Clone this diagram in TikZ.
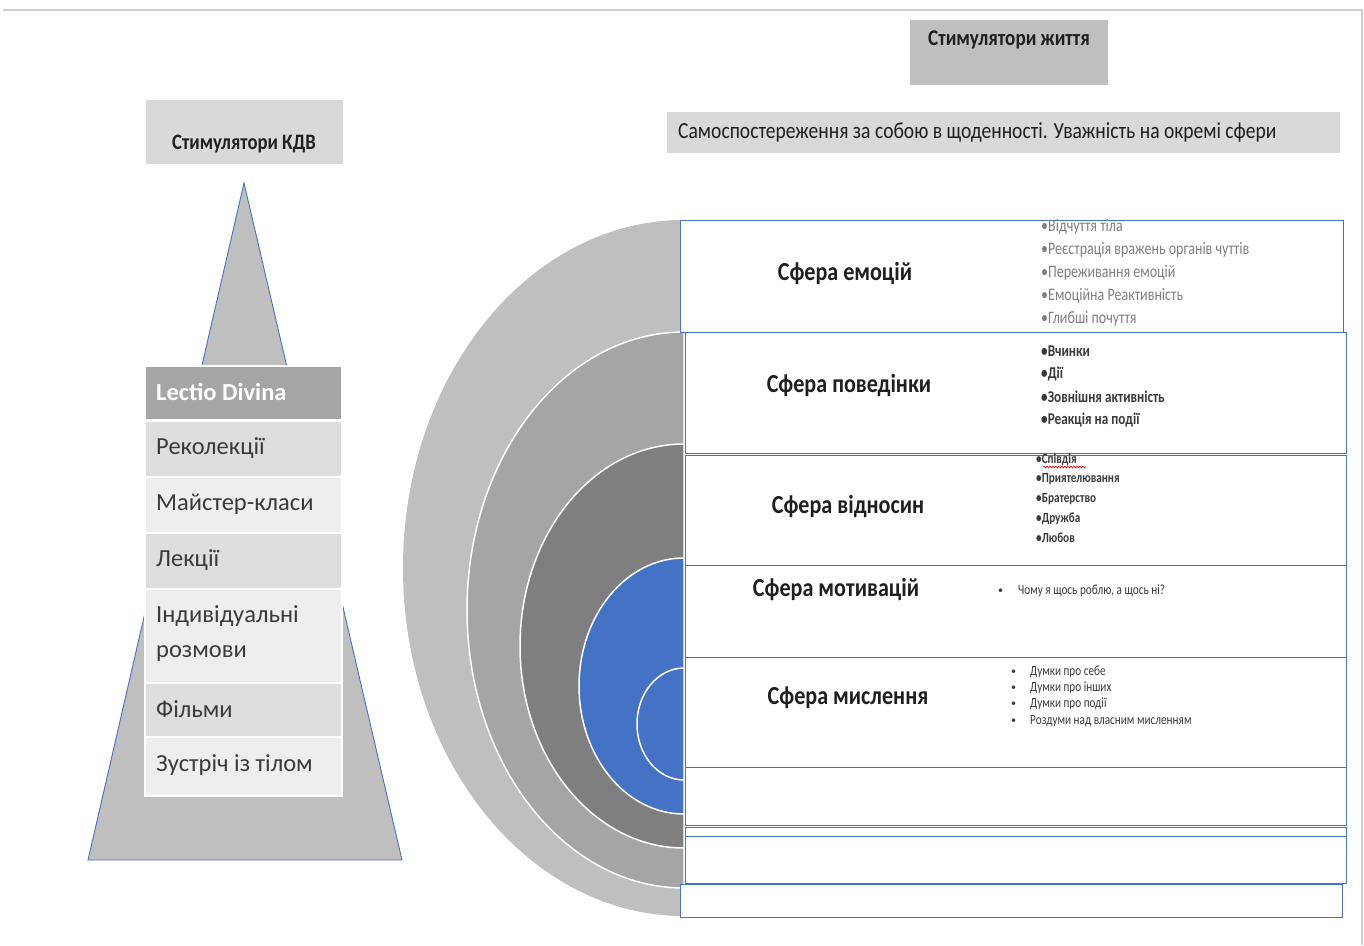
\documentclass[tikz,border=0pt]{standalone}
\usepackage{fontspec}
\setmainfont{Carlito}
\newfontfamily\condfont[FakeStretch=0.85]{Carlito}
\newfontfamily\narrowfont[FakeStretch=0.8]{Carlito}
\usetikzlibrary{decorations.pathmorphing}
\definecolor{bluel}{HTML}{4472C4}
\definecolor{gA}{HTML}{BFBFBF}
\definecolor{gB}{HTML}{A5A5A5}
\definecolor{gC}{HTML}{7F7F7F}
\definecolor{gD}{HTML}{D9D9D9}
\definecolor{lstD}{HTML}{DEDEDE}
\definecolor{lstL}{HTML}{EEEEEE}
\definecolor{txt}{HTML}{1F1F1F}
\definecolor{btxt}{HTML}{3A3A3A}
\definecolor{frame}{HTML}{CFCFCF}
\begin{document}
\begin{tikzpicture}[x=1pt,y=-1pt,
  box/.style={anchor=north west, inner sep=0pt, outer sep=0pt, draw=none},
  lbox/.style={anchor=north west, inner sep=0pt, outer sep=0pt, draw=white, line width=2pt, minimum width=197pt},
  ltext/.style={anchor=west, inner sep=0pt, font=\fontsize{24.5}{28}\selectfont, text=btxt},
  sphere/.style={anchor=north west, inner sep=0pt, outer sep=0pt, draw=bluel, line width=0.9pt, fill=white},
  slabel/.style={font=\condfont\bfseries\fontsize{26}{30}\selectfont, text=txt},
  bul/.style={anchor=west, inner sep=0pt},
  ringline/.style={draw=white, line width=1.5pt}
]
\useasboundingbox (0,0) rectangle (1364,945);
% page frame
\draw[frame, line width=1.5pt] (3,10) -- (1362,10) -- (1362,945);

% ---- left pyramid ----
\coordinate (apex) at (244,183);
\coordinate (bl) at (88,860);
\coordinate (br) at (402,860);
\filldraw[fill=gA, draw=bluel, line width=0.9pt] (apex) -- (br) -- (bl) -- cycle;

\node[box, fill=gD, minimum width=197pt, minimum height=64pt] (kdv) at (146,100) {};
\node[font=\condfont\bfseries\fontsize{22}{26}\selectfont, text=txt] (kdvt) at (244,144) {Стимулятори КДВ};

\node[lbox, fill=gB, minimum height=54pt] (l1) at (145,366) {};
\node[ltext, font=\bfseries\fontsize{24.5}{28}\selectfont, text=white] (l1t) at (156,392) {Lectio Divina};
\node[lbox, fill=lstD, minimum height=56pt] (l2) at (145,421) {};
\node[ltext] (l2t) at (156,448) {Реколекції};
\node[lbox, fill=lstL, minimum height=56pt] (l3) at (145,477) {};
\node[ltext] (l3t) at (156,504) {Майстер-класи};
\node[lbox, fill=lstD, minimum height=56pt] (l4) at (145,533) {};
\node[ltext] (l4t) at (156,560) {Лекції};
\node[lbox, fill=lstL, minimum height=95pt] (l5) at (145,589) {};
\node[ltext] (l5t) at (156,616) {Індивідуальні};
\node[ltext] (l5u) at (156,654) {розмови};
\node[lbox, fill=lstD, minimum height=55pt] (l6) at (145,683) {};
\node[ltext] (l6t) at (156,709) {Фільми};
\node[lbox, fill=lstL, minimum height=59pt] (l7) at (145,737) {};
\node[ltext] (l7t) at (156,765) {Зустріч із тілом};

% ---- top right boxes ----
\node[box, fill=gA, minimum width=198pt, minimum height=65pt] (life) at (910,20) {};
\node[font=\condfont\bfseries\fontsize{22.5}{26}\selectfont, text=txt] (lifet) at (1009,40) {Стимулятори життя};
\node[box, fill=gD, minimum width=673pt, minimum height=41pt] (obs) at (667,112) {};
\node[anchor=west, inner sep=0pt, font=\condfont\fontsize{23}{26}\selectfont, text=txt] (obst) at (678,132) {Самоспостереження за собою в щоденності. Уважність на окремі сфери};

% ---- half ellipses ----
\fill[gA] (684,220) arc[start angle=-90, end angle=-270, x radius=281, y radius=348] -- cycle;
\filldraw[fill=gB, ringline] (684,332) arc[start angle=-90, end angle=-270, x radius=217, y radius=278] -- cycle;
\filldraw[fill=gC, ringline] (684,444) arc[start angle=-90, end angle=-270, x radius=164, y radius=202] -- cycle;
\filldraw[fill=bluel, ringline] (684,558) arc[start angle=-90, end angle=-270, x radius=105, y radius=128] -- cycle;
\filldraw[fill=bluel, ringline] (684,668) arc[start angle=-90, end angle=-270, x radius=47, y radius=56] -- cycle;

% ---- sphere boxes ----
\node[sphere, minimum width=662pt, minimum height=33pt] (b9) at (680,884) {};
\node[sphere, minimum width=661pt, minimum height=47pt] (b8) at (685,836) {};
\node[sphere, minimum width=661pt, minimum height=9pt] (b7) at (685,827) {};
\node[sphere, minimum width=661pt, minimum height=58pt] (b6) at (685,767) {};
\node[sphere, minimum width=661pt, minimum height=110pt] (b5) at (685,657) {};
\node[sphere, minimum width=661pt, minimum height=92pt] (b4) at (685,565) {};
\node[sphere, minimum width=661pt, minimum height=110pt] (b3) at (685,455) {};
\node[sphere, minimum width=663pt, minimum height=112pt] (b1) at (680,220) {};
\node[sphere, minimum width=661pt, minimum height=121pt] (b2) at (685,332) {};

\node[slabel] (s1) at (845,273) {Сфера емоцій};
\node[slabel] (s2) at (849,385) {Сфера поведінки};
\node[slabel] (s3) at (848,506) {Сфера відносин};
\node[slabel] (s4) at (836,589) {Сфера мотивацій};
\node[slabel] (s5) at (848,698) {Сфера мислення};

% emotions bullets
\begin{scope}[every node/.style={bul, font=\narrowfont\fontsize{17.5}{19}\selectfont, text=gC}]
\node (e1) at (1041,227) {•Відчуття тіла};
\node (e2) at (1041,250) {•Реєстрація вражень органів чуттів};
\node (e3) at (1041,273) {•Переживання емоцій};
\node (e4) at (1041,296) {•Емоційна Реактивність};
\node (e5) at (1041,319) {•Глибші почуття};
\end{scope}
% behaviour bullets
\begin{scope}[every node/.style={bul, font=\narrowfont\bfseries\fontsize{16.5}{19}\selectfont, text=btxt}]
\node (p1) at (1041,351) {•Вчинки};
\node (p2) at (1041,374) {•Дії};
\node (p3) at (1041,397) {•Зовнішня активність};
\node (p4) at (1041,420) {•Реакція на події};
\end{scope}
% relations bullets
\begin{scope}[every node/.style={bul, font=\narrowfont\bfseries\fontsize{14}{15}\selectfont, text=btxt}]
\node (r1) at (1036,460) {•Співдія};
\node (r2) at (1036,479) {•Приятелювання};
\node (r3) at (1036,499) {•Братерство};
\node (r4) at (1036,519) {•Дружба};
\node (r5) at (1036,538) {•Любов};
\end{scope}
\draw[red, line width=0.6pt, decorate, decoration={snake, amplitude=1pt, segment length=3pt}] (1043,467) -- (1086,467);
% motivation bullet
\node[bul, font=\fontsize{10}{12}\selectfont, text=btxt] (m0) at (998,591) {•};
\node[bul, font=\narrowfont\fontsize{14}{15}\selectfont, text=btxt] (m1) at (1018,591) {Чому я щось роблю, а щось ні?};
% thinking bullets
\begin{scope}[every node/.style={bul, font=\narrowfont\fontsize{14}{15}\selectfont, text=btxt}]
\node[font=\fontsize{10}{12}\selectfont] (t0a) at (1011,672) {•};
\node[font=\fontsize{10}{12}\selectfont] (t0b) at (1011,688) {•};
\node[font=\fontsize{10}{12}\selectfont] (t0c) at (1011,704) {•};
\node[font=\fontsize{10}{12}\selectfont] (t0d) at (1011,721) {•};
\node (t1) at (1030,672) {Думки про себе};
\node (t2) at (1030,688) {Думки про інших};
\node (t3) at (1030,704) {Думки про події};
\node (t4) at (1030,721) {Роздуми над власним мисленням};
\end{scope}
\end{tikzpicture}
\end{document}
